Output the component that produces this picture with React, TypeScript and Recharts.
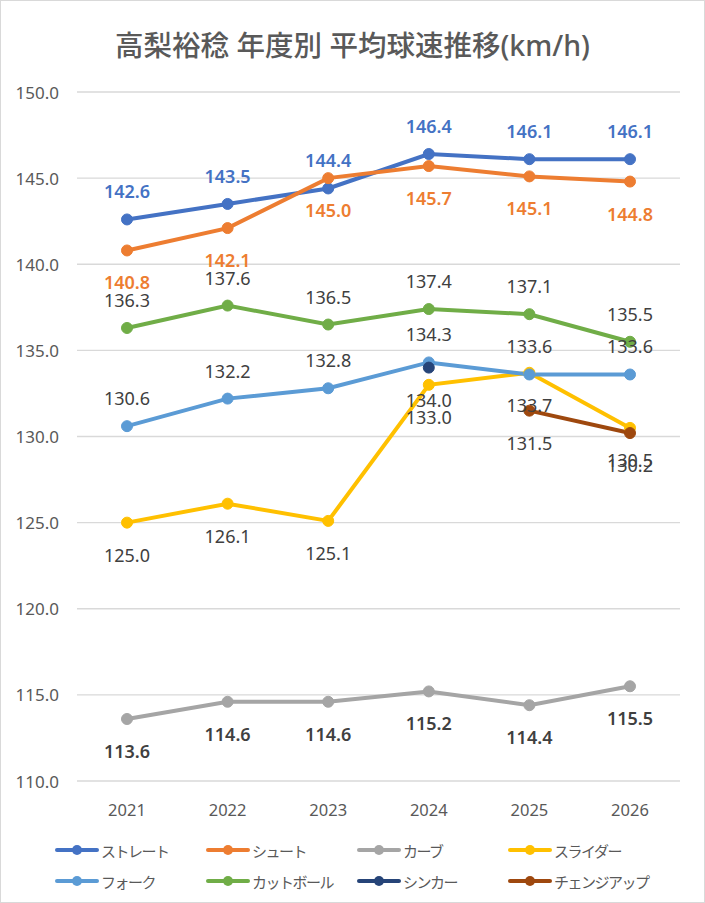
import { LineChart, Line, XAxis, YAxis, CartesianGrid, LabelList } from "recharts";

const years = ["2021", "2022", "2023", "2024", "2025", "2026"];
const straight = [142.6, 143.5, 144.4, 146.4, 146.1, 146.1];
const shoot = [140.8, 142.1, 145.0, 145.7, 145.1, 144.8];
const curve = [113.6, 114.6, 114.6, 115.2, 114.4, 115.5];
const slider = [125.0, 126.1, 125.1, 133.0, 133.7, 130.5];
const fork = [130.6, 132.2, 132.8, 134.3, 133.6, 133.6];
const cutBall = [136.3, 137.6, 136.5, 137.4, 137.1, 135.5];
const sinker = [null, null, null, 134.0, null, null];
const changeUp = [null, null, null, null, 131.5, 130.2];
const yTicks = [110, 115, 120, 125, 130, 135, 140, 145, 150];

const FONT = "'Noto Sans', 'Noto Sans CJK JP', sans-serif";
const TEXT = "#595959";

type SeriesDef = {
  key: string;
  name: string;
  color: string;
  values: (number | null)[];
  pos: "top" | "bottom";
  labelColor: string;
  bold: boolean;
};

const series: SeriesDef[] = [
  { key: "straight", name: "ストレート", color: "#4472C4", values: straight, pos: "top", labelColor: "#4472C4", bold: true },
  { key: "shoot", name: "シュート", color: "#ED7D31", values: shoot, pos: "bottom", labelColor: "#ED7D31", bold: true },
  { key: "curve", name: "カーブ", color: "#A5A5A5", values: curve, pos: "bottom", labelColor: "#404040", bold: true },
  { key: "slider", name: "スライダー", color: "#FFC000", values: slider, pos: "bottom", labelColor: "#404040", bold: false },
  { key: "fork", name: "フォーク", color: "#5B9BD5", values: fork, pos: "top", labelColor: "#404040", bold: false },
  { key: "cutBall", name: "カットボール", color: "#70AD47", values: cutBall, pos: "top", labelColor: "#404040", bold: false },
  { key: "sinker", name: "シンカー", color: "#264478", values: sinker, pos: "bottom", labelColor: "#404040", bold: false },
  { key: "changeUp", name: "チェンジアップ", color: "#9E480E", values: changeUp, pos: "bottom", labelColor: "#404040", bold: false },
];

const data = years.map((year, i) => {
  const row: Record<string, string | number | null> = { year };
  series.forEach((s) => (row[s.key] = s.values[i]));
  return row;
});

const makeLabel = (s: SeriesDef) => (props: any) => {
  const { x, y, value } = props;
  if (value == null) return null;
  return (
    <text
      x={x}
      y={s.pos === "top" ? y - 28 : y + 32}
      textAnchor="middle"
      dominantBaseline="central"
      fill={s.labelColor}
      fontSize={18}
      fontWeight={s.bold ? 600 : 400}
      fontFamily={FONT}
    >
      {Number(value).toFixed(1)}
    </text>
  );
};

const XTick = (props: any) => {
  const { x, y, payload } = props;
  return (
    <text x={x} y={y + 8} textAnchor="middle" dominantBaseline="central" fill={TEXT} fontSize={16.5} fontFamily={FONT}>
      {payload.value}
    </text>
  );
};

const YTick = (props: any) => {
  const { x, y, payload } = props;
  return (
    <text x={x} y={y} textAnchor="end" dominantBaseline="central" fill={TEXT} fontSize={17} fontFamily={FONT}>
      {Number(payload.value).toFixed(1)}
    </text>
  );
};

const App = () => {
  return (
    <div
      style={{
        position: "fixed",
        left: 0,
        top: 0,
        width: 705,
        height: 903,
        background: "#fff",
        border: "1px solid #d9d9d9",
        boxSizing: "border-box",
        fontFamily: FONT,
      }}
    >
      <div
        style={{
          position: "absolute",
          top: 22,
          left: 0,
          width: 703,
          textAlign: "center",
          fontSize: 28.5,
          color: TEXT,
          fontWeight: 500,
        }}
      >
        高梨裕稔 年度別 平均球速推移(km/h)
      </div>
      <div style={{ position: "absolute", left: -1, top: -1 }}>
        <LineChart width={705} height={903} data={data} margin={{ top: 92, right: 25, bottom: 92, left: 0 }}>
          <CartesianGrid vertical={false} stroke="#d9d9d9" strokeWidth={1.3} />
          <XAxis
            dataKey="year"
            height={30}
            padding={{ left: 50, right: 50 }}
            axisLine={false}
            tickLine={false}
            tickSize={0}
            tickMargin={20}
            tick={<XTick />}
          />
          <YAxis
            width={77}
            domain={[110, 150]}
            ticks={yTicks}
            axisLine={false}
            tickLine={false}
            tickSize={0}
            tickMargin={18}
            tick={<YTick />}
          />
          {series.map((s) => (
            <Line
              key={s.key}
              dataKey={s.key}
              name={s.name}
              stroke={s.color}
              strokeWidth={4}
              dot={{ r: 5.5, fill: s.color, stroke: s.color, strokeWidth: 1 }}
              activeDot={false}
              isAnimationActive={false}
            >
              <LabelList dataKey={s.key} content={makeLabel(s)} />
            </Line>
          ))}
        </LineChart>
      </div>
      <div
        style={{
          position: "absolute",
          left: 54,
          top: 838,
          width: 620,
          display: "grid",
          gridTemplateColumns: "151px 151px 151px 151px",
          rowGap: 9,
        }}
      >
        {series.map((s) => (
          <div key={s.key} style={{ display: "flex", alignItems: "center", height: 22 }}>
            <svg width={44} height={14} style={{ marginRight: 2 }}>
              <line x1={2} y1={7} x2={42} y2={7} stroke={s.color} strokeWidth={4} strokeLinecap="round" />
              <circle cx={22} cy={7} r={5} fill={s.color} />
            </svg>
            <span style={{ fontSize: 15, letterSpacing: -1.5, color: TEXT }}>{s.name}</span>
          </div>
        ))}
      </div>
    </div>
  );
};

export default App;
